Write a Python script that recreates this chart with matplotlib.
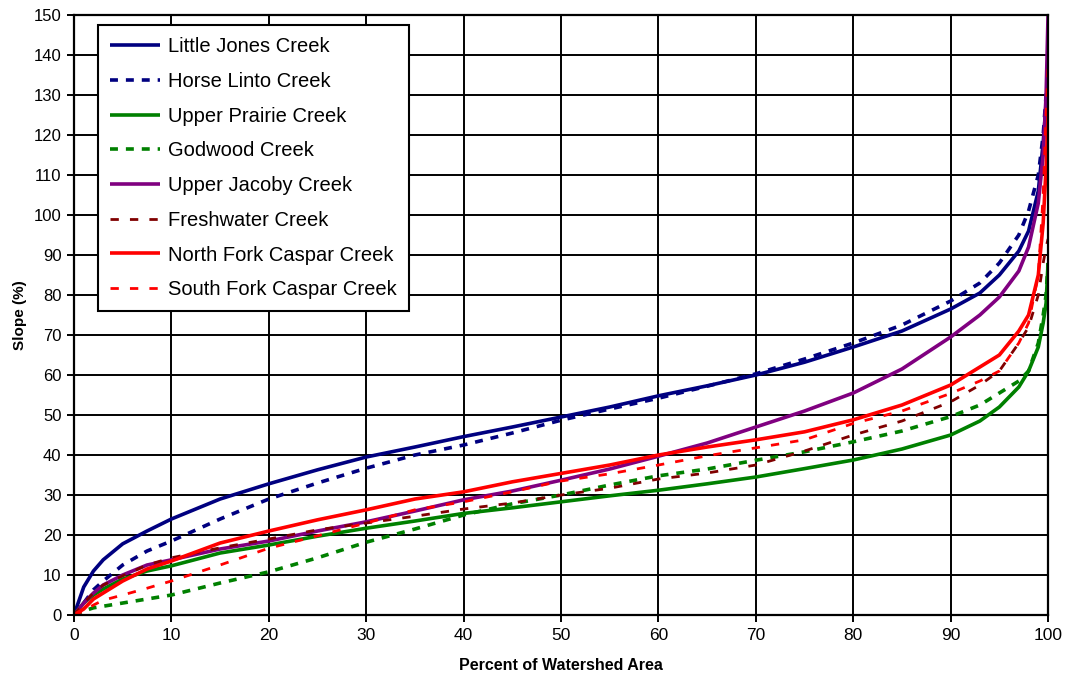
import matplotlib
matplotlib.use("Agg")
import matplotlib.pyplot as plt

plt.rcParams['font.family'] = ['Liberation Sans', 'DejaVu Sans']

# percent of watershed area (common x positions)
pct = [0, 1, 2, 3, 5, 7.5, 10, 15, 20, 25, 30, 35, 40, 45, 50, 55, 60, 65,
       70, 75, 80, 85, 90, 93, 95, 97, 98, 99, 99.5, 99.8, 100]

little_jones = [0, 7, 11, 13.8, 17.8, 21, 24, 29, 32.8, 36.3, 39.5, 42, 44.6,
                47, 49.5, 52, 54.8, 57.3, 60, 63.2, 67, 71, 76.5, 80.5, 85,
                91, 96, 106, 118, 128, 133]
horse_linto = [0, 3, 6.3, 8.5, 12.5, 16, 18.5, 24, 29, 33, 36.7, 40, 42.5,
               45.5, 48.7, 51.5, 54.2, 57.2, 60.3, 64, 68, 72.5, 78.5, 83,
               88, 95, 101, 110, 120, 130, 134]
upper_prairie = [0, 3, 5, 6.5, 9, 11, 12.3, 15.5, 17.5, 19.7, 21.7, 23.5,
                 25.4, 26.8, 28.3, 29.8, 31.2, 32.8, 34.5, 36.6, 38.75, 41.5,
                 45, 48.5, 52, 57, 61, 67, 73, 78, 88]
godwood = [0, 1, 1.8, 2.2, 3, 4, 5, 8, 10.8, 14.3, 18.2, 21.5, 25, 27.8, 30,
           32.5, 34.8, 36.5, 38.7, 40.8, 43.3, 46, 49.6, 52.5, 55.5, 58.5,
           61, 68, 75, 80, 88]
upper_jacoby = [0, 3, 5.5, 7.5, 10, 12.5, 13.8, 16.5, 18.5, 21, 23.3, 26,
                28.8, 31, 33.7, 36.5, 39.7, 43, 47, 51, 55.5, 61.5, 69.5, 75,
                79.5, 86, 92, 103, 115, 130, 150]
freshwater = [0, 3, 5.5, 7.5, 9.8, 12.5, 14.3, 16.8, 19, 21.3, 23, 24.7,
              26.5, 28, 30, 31.7, 34, 35.5, 37.5, 41, 45, 48.5, 53.3, 57.5,
              61, 68, 72, 80, 88, 92, 94]
nf_caspar = [0, 1.5, 4, 5.5, 8.5, 11.5, 13.5, 18, 21, 23.8, 26.3, 29, 30.8,
             33.3, 35.4, 37.5, 40, 42, 43.8, 45.8, 48.8, 52.5, 57.5, 62, 65,
             71, 75, 85, 98, 112, 125]
sf_caspar = [0, 1, 2.5, 3.7, 5, 6.7, 8.5, 12.5, 16.7, 19.8, 23, 26.3, 28.3,
             30.8, 33.5, 35.3, 37.5, 39.8, 41.8, 43.8, 47.9, 51, 55.4, 58.5,
             61, 68, 73, 85, 105, 125, 137]

series = [
    ('Little Jones Creek', little_jones, '#000080', 'solid'),
    ('Horse Linto Creek', horse_linto, '#000080', 'dot'),
    ('Upper Prairie Creek', upper_prairie, '#008000', 'solid'),
    ('Godwood Creek', godwood, '#008000', 'dot'),
    ('Upper Jacoby Creek', upper_jacoby, '#800080', 'solid'),
    ('Freshwater Creek', freshwater, '#800000', 'dash'),
    ('North Fork Caspar Creek', nf_caspar, '#FF0000', 'solid'),
    ('South Fork Caspar Creek', sf_caspar, '#FF0000', 'dash'),
]

fig = plt.figure(figsize=(10.69, 6.82), dpi=100)
ax = fig.add_axes([0.0692, 0.0982, 0.9112, 0.8798])

for name, vals, col, style in series:
    if style == 'solid':
        ax.plot(pct, vals, color=col, lw=2.6, label=name, solid_capstyle='butt')
    elif style == 'dot':
        ax.plot(pct, vals, color=col, lw=2.6, dashes=(2.2, 2.2), label=name)
    else:
        ax.plot(pct, vals, color=col, lw=2.0, dashes=(3, 4), label=name)

ax.set_xlim(0, 100)
ax.set_ylim(0, 150)
ax.set_xticks(range(0, 101, 10))
ax.set_yticks(range(0, 151, 10))
ax.grid(True, color='black', lw=1.4)
ax.set_axisbelow(True)
for s in ax.spines.values():
    s.set_linewidth(1.6)
ax.tick_params(direction='out', length=5, width=1.4, pad=4)
ax.tick_params(axis='y', labelsize=12)
ax.tick_params(axis='x', labelsize=12.5)

ax.set_xlabel('Percent of Watershed Area', fontsize=11.5, fontweight='bold', labelpad=11)
ax.set_ylabel('Slope (%)', fontsize=11, fontweight='bold', labelpad=5)

leg = ax.legend(loc='upper left', bbox_to_anchor=(0.0246, 0.983), borderaxespad=0,
                fontsize=14.5, handlelength=2.5, labelspacing=0.78, fancybox=False,
                framealpha=1, edgecolor='black', borderpad=0.6, handletextpad=0.4)
leg.get_frame().set_linewidth(1.5)

fig.savefig('out.png', dpi=100)
